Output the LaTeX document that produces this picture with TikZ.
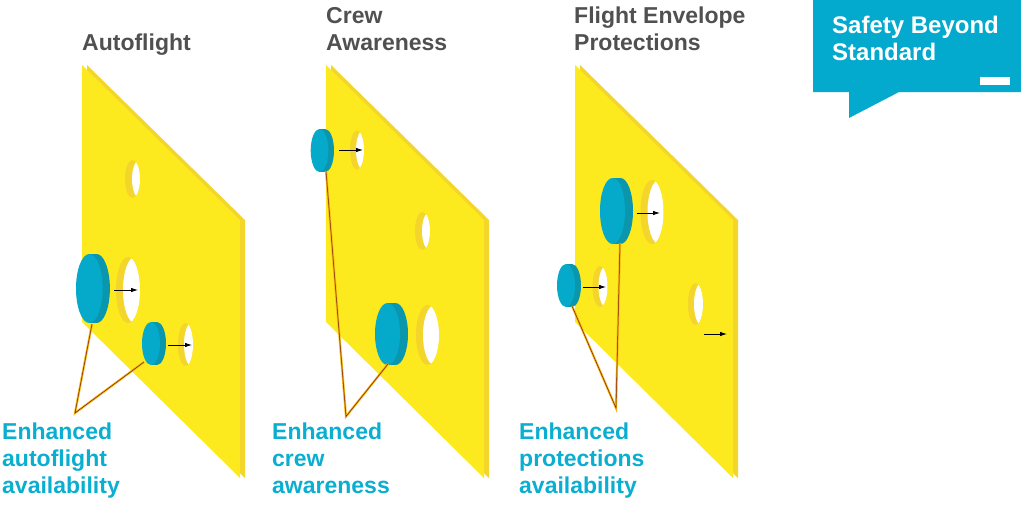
\documentclass[tikz,border=0pt]{standalone}
\usepackage{fontspec}
\setmainfont{Liberation Sans}
\usetikzlibrary{arrows.meta,calc}
\definecolor{panelY}{HTML}{FCEA1E}
\definecolor{panelE}{HTML}{F3D52B}
\definecolor{plugL}{HTML}{05AACB}
\definecolor{plugD}{HTML}{0A97AD}
\definecolor{txtC}{HTML}{0AAED1}
\definecolor{boxC}{HTML}{03AACD}
\definecolor{ttlG}{HTML}{505050}
\definecolor{leadO}{HTML}{F6B414}
\definecolor{leadD}{HTML}{7A2208}
\newcommand\mypanel[1]{%
  \fill[panelE] (#1+5,65) -- (#1+163,220) -- (#1+163,478) -- (#1+5,322) -- cycle;
  \fill[panelY] (#1,65) -- (#1+158,220) -- (#1+158,478) -- (#1,322) -- cycle;}
\newcommand\myhole[5]{%
  \fill[panelE] (#1,#2) ellipse ({#3} and {#4});
  \begin{scope}
    \clip (#1,#2) ellipse ({#3} and {#4});
    \fill[white] (#1+#5,#2) ellipse ({#3} and {#4});
  \end{scope}}
\newcommand\myplug[5]{%
  \fill[plugD] (#1+#5,#2) ellipse ({#3} and {#4});
  \fill[plugD] (#1,#2-#4) rectangle (#1+#5,#2+#4);
  \fill[plugL] (#1,#2) ellipse ({#3} and {#4});}
\begin{document}
\begin{tikzpicture}[x=1pt,y=-1pt,
  ttl/.style={text=ttlG, font=\fontsize{23}{27}\selectfont\bfseries, inner sep=0pt, align=left, anchor=base west},
  lbl/.style={text=txtC, font=\fontsize{23}{27}\selectfont\bfseries, inner sep=0pt, align=left, anchor=base west},
  boxtxt/.style={text=white, font=\fontsize{24}{27}\selectfont\bfseries, inner sep=0pt, align=left, anchor=base west},
  arr/.style={-{Latex[length=7pt,width=4.5pt]}, line width=0.8pt, black},
  lead/.style={draw=leadD, line width=0.5pt, preaction={draw=leadO, line width=2.2pt}}]
\useasboundingbox (0,0) rectangle (1021,514);
% panels
\mypanel{82}
\mypanel{326}
\mypanel{575}
% holes panel 1
\myhole{132.5}{179}{7.5}{19}{7}
\myhole{128}{290}{12}{33}{7}
\myhole{185.5}{344.5}{7.5}{21.5}{6}
% holes panel 2
\myhole{357}{150}{7}{19.5}{6}
\myhole{422.5}{231}{7.5}{19}{7}
\myhole{427.5}{335}{11.5}{30}{7}
% holes panel 3
\myhole{652}{212}{11.5}{32}{7}
\myhole{600}{286.5}{7.5}{20.5}{6}
\myhole{695.5}{304}{7.5}{21}{6}
% plugs
\myplug{89.3}{288.5}{13.3}{34.5}{7.3}
\myplug{151}{343.5}{9}{21.5}{6}
\myplug{319.5}{150.5}{8.8}{21.5}{5.7}
\myplug{387.5}{334}{12.5}{31}{8}
\myplug{612.5}{211}{12.5}{33}{8}
\myplug{566}{285.5}{9}{21.5}{6}
% coordinates
\coordinate (a1s) at (114,290);   \coordinate (a1e) at (138,290);
\coordinate (a2s) at (168,345);   \coordinate (a2e) at (192,345);
\coordinate (a3s) at (339,150);   \coordinate (a3e) at (363,150);
\coordinate (a4s) at (637,213);   \coordinate (a4e) at (660,213);
\coordinate (a5s) at (583,287);   \coordinate (a5e) at (606,287);
\coordinate (a6s) at (704,334);   \coordinate (a6e) at (727,334);
\draw[arr] (a1s) -- (a1e);
\draw[arr] (a2s) -- (a2e);
\draw[arr] (a3s) -- (a3e);
\draw[arr] (a4s) -- (a4e);
\draw[arr] (a5s) -- (a5e);
\draw[arr] (a6s) -- (a6e);
% leader lines
\coordinate (p1a) at (92,324);  \coordinate (p1b) at (144,362); \coordinate (x1) at (75,413);
\coordinate (p2a) at (326,171); \coordinate (p2b) at (388,364); \coordinate (x2) at (346,416.5);
\coordinate (p3a) at (620,243); \coordinate (p3b) at (572,306); \coordinate (x3) at (616,408);
\draw[lead] (p1a) -- (x1) -- (p1b);
\draw[lead] (p2a) -- (x2) -- (p2b);
\draw[lead] (p3a) -- (x3) -- (p3b);
% titles
\node[ttl] (t1) at (82,50) {Autoflight};
\node[ttl] (t2) at (326,50) {Crew\\Awareness};
\node[ttl] (t3) at (574,50) {Flight Envelope\\Protections};
% labels
\node[lbl] (l1) at (2,493) {Enhanced\\autoflight\\availability};
\node[lbl] (l2) at (272,493) {Enhanced\\crew\\awareness};
\node[lbl] (l3) at (519,493) {Enhanced\\protections\\availability};
% callout
\fill[boxC] (813,0) -- (1021,0) -- (1021,92) -- (899,92) -- (849,118) -- (849,92) -- (813,92) -- cycle;
\fill[white] (980,77) rectangle (1010,85);
\node[boxtxt] (bx) at (832,60) {Safety Beyond\\Standard};
\end{tikzpicture}
\end{document}
